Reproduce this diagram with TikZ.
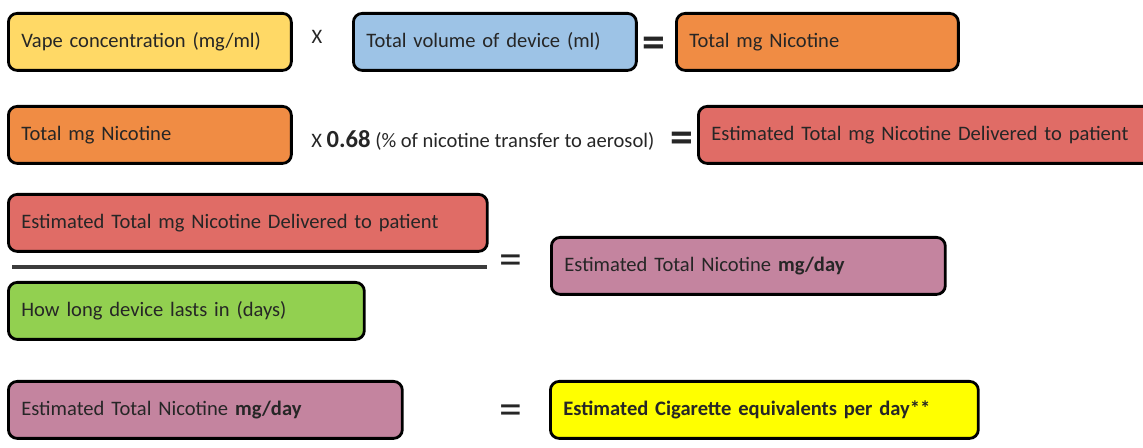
\documentclass[tikz,border=0pt]{standalone}
\usepackage{fontspec}
\setmainfont{Carlito}
\usetikzlibrary{positioning}
\definecolor{vapeyellow}{HTML}{FFD966}
\definecolor{volblue}{HTML}{9DC3E6}
\definecolor{nicorange}{HTML}{F08C44}
\definecolor{deliverred}{HTML}{E06C66}
\definecolor{daysgreen}{HTML}{92D050}
\definecolor{dailypink}{HTML}{C4849F}
\definecolor{cigyellow}{HTML}{FFFF00}
\definecolor{inkgray}{HTML}{262626}

\begin{document}
\begin{tikzpicture}[x=0.02cm, y=-0.02cm]
		\tikzset{calcbox/.style={draw=black, line width=1.6pt, rounded corners=5pt, anchor=north west,
				minimum height=1.14cm, inner xsep=0.26cm, align=left, text=inkgray,
				font=\fontsize{11.7}{14}\selectfont}}
		\tikzset{eqsign/.style={inner sep=0pt, text=inkgray, font=\fontsize{26}{26}\selectfont}}
		\tikzset{timessign/.style={inner sep=0pt, text=inkgray, font=\fontsize{11.7}{14}\selectfont}}
		\clip (0,0) rectangle (1143,448);
		% row 1
		\node[calcbox, fill=vapeyellow, text width=5.14cm] (conc) at (7,12) {Vape concentration (mg/ml)};
		\node[timessign] (times1) at (317,37) {X};
		\node[calcbox, fill=volblue, text width=5.14cm] (vol) at (352,12) {Total volume of device (ml)};
		\node[eqsign, font=\fontsize{26}{26}\selectfont\bfseries] (eq1) at (654,47) {=};
		\node[calcbox, fill=nicorange, text width=5.12cm] (total1) at (675,12) {Total mg Nicotine};
		% row 2
		\node[calcbox, fill=nicorange, text width=5.14cm] (total2) at (7,105) {Total mg Nicotine};
		\node[timessign, anchor=base west] (factor) at (311,148)
			{X \textbf{\fontsize{14}{14}\selectfont 0.68} (\% of nicotine transfer to aerosol)};
		\node[eqsign, font=\fontsize{26}{26}\selectfont\bfseries] (eq2) at (682,142) {=};
		\node[calcbox, fill=deliverred, text width=8.74cm] (deliv1) at (697,105) {Estimated Total mg Nicotine Delivered to patient};
		% row 3
		\node[calcbox, fill=deliverred, text width=9.06cm] (deliv2) at (7,193) {Estimated Total mg Nicotine Delivered to patient};
		\coordinate (barL) at (12,267);
		\coordinate (barR) at (487,267);
		\draw[line width=1.9pt, draw=inkgray!90] (barL) -- (barR);
		\node[calcbox, fill=daysgreen, text width=6.60cm] (days) at (7,281) {How long device lasts in (days)};
		\node[eqsign] (eq3) at (511,265) {=};
		\node[calcbox, fill=dailypink, text width=7.36cm] (daily1) at (550,236) {Estimated Total Nicotine \textbf{mg/day}};
		% row 4
		\node[calcbox, fill=dailypink, text width=7.36cm] (daily2) at (7,380) {Estimated Total Nicotine \textbf{mg/day}};
		\node[eqsign] (eq4) at (511,415) {=};
		\node[calcbox, fill=cigyellow, text width=8.04cm, font=\fontsize{11.7}{14}\selectfont\bfseries] (cigs) at (549,380) {Estimated Cigarette equivalents per day**};
\end{tikzpicture}
\end{document}
